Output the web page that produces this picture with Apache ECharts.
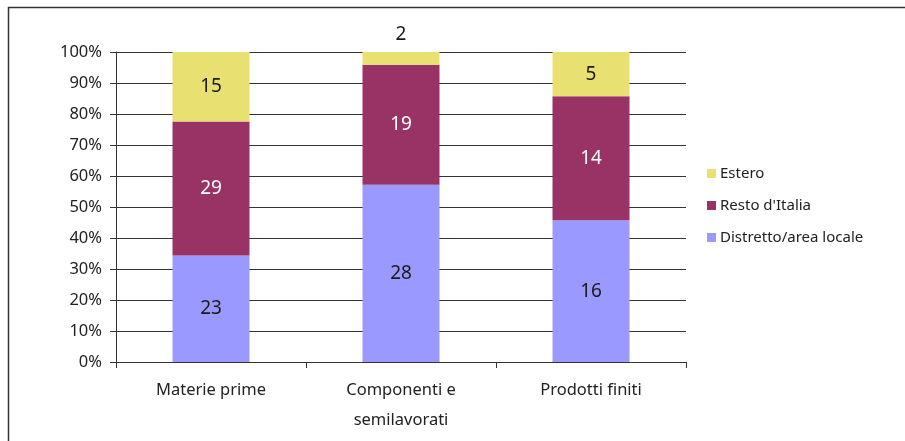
<!DOCTYPE html>
<html>
<head>
<meta charset="utf-8">
<script src="https://cdn.jsdelivr.net/npm/echarts@6/dist/echarts.min.js"></script>
<style>
  html, body { margin: 0; padding: 0; background: #fff; }
  #chart { width: 905px; height: 441px; }
</style>
</head>
<body>
<div id="chart"></div>
<script>
// Sources of supply by type of input (counts), shown as 100% stacked columns
const categories = ['Materie prime', 'Componenti e\nsemilavorati', 'Prodotti finiti'];
const distretto = [23, 28, 16];
const restoItalia = [29, 19, 14];
const estero = [15, 2, 5];
const seriesNames = ['Distretto/area locale', "Resto d'Italia", 'Estero'];
const yTicks = [0, 10, 20, 30, 40, 50, 60, 70, 80, 90, 100];

const totals = categories.map((_, i) => distretto[i] + restoItalia[i] + estero[i]);
const pct = (arr) => arr.map((v, i) => ({ value: v / totals[i] * 100, raw: v }));

const FONT = 'Noto Sans';
const labelBase = {
  show: true,
  position: 'inside',
  fontFamily: FONT,
  fontSize: 19,
  formatter: (p) => String(p.data.raw)
};

function makeData(arr, name) {
  return pct(arr).map((d) => {
    const item = { value: d.value, raw: d.raw };
    // very thin slices get their label placed above the column
    if (name === 'Estero' && d.value < 6) {
      item.label = { position: 'top', distance: 8 };
    }
    return item;
  });
}

const chart = echarts.init(document.getElementById('chart'), null, { renderer: 'canvas' });
chart.setOption({
  animation: false,
  backgroundColor: '#fff',
  graphic: [{
    type: 'rect',
    shape: { x: 8.5, y: 7.5, width: 1200, height: 1200 },
    style: { fill: 'none', stroke: '#333', lineWidth: 1.5 },
    silent: true
  }],
  grid: { left: 116, right: 219, top: 52, bottom: 79, containLabel: false },
  legend: {
    orient: 'vertical',
    left: 702,
    top: 161,
    itemWidth: 9,
    itemHeight: 9,
    itemGap: 17,
    icon: 'rect',
    data: ['Estero', "Resto d'Italia", 'Distretto/area locale'],
    textStyle: { fontFamily: FONT, fontSize: 15, color: '#222', padding: [0, 0, 0, -1] }
  },
  xAxis: {
    type: 'category',
    data: categories,
    axisLine: { lineStyle: { color: '#333', width: 1 } },
    axisTick: { show: true, alignWithLabel: false, length: 6, lineStyle: { color: '#333' } },
    axisLabel: {
      fontFamily: FONT, fontSize: 16.5, color: '#222', margin: 13,
      lineHeight: 30, interval: 0
    }
  },
  yAxis: {
    type: 'value',
    min: 0,
    max: 100,
    interval: 10,
    axisLine: { show: true, lineStyle: { color: '#333', width: 1 } },
    axisTick: { show: true, length: 6, lineStyle: { color: '#333' } },
    axisLabel: {
      fontFamily: FONT, fontSize: 16.5, color: '#222', margin: 14,
      formatter: (v) => yTicks.includes(v) ? v + '%' : ''
    },
    splitLine: { show: true, lineStyle: { color: '#333', width: 1 } }
  },
  series: [
    {
      name: seriesNames[0], type: 'bar', stack: 'tot', barWidth: 77,
      itemStyle: { color: '#9999FF' },
      label: Object.assign({}, labelBase, { color: '#1a1a1a' }),
      data: makeData(distretto, seriesNames[0])
    },
    {
      name: seriesNames[1], type: 'bar', stack: 'tot', barWidth: 77,
      itemStyle: { color: '#993366' },
      label: Object.assign({}, labelBase, { color: '#ffffff' }),
      data: makeData(restoItalia, seriesNames[1])
    },
    {
      name: seriesNames[2], type: 'bar', stack: 'tot', barWidth: 77,
      itemStyle: { color: '#E8E070' },
      label: Object.assign({}, labelBase, { color: '#1a1a1a' }),
      data: makeData(estero, seriesNames[2])
    }
  ]
});
</script>
</body>
</html>
